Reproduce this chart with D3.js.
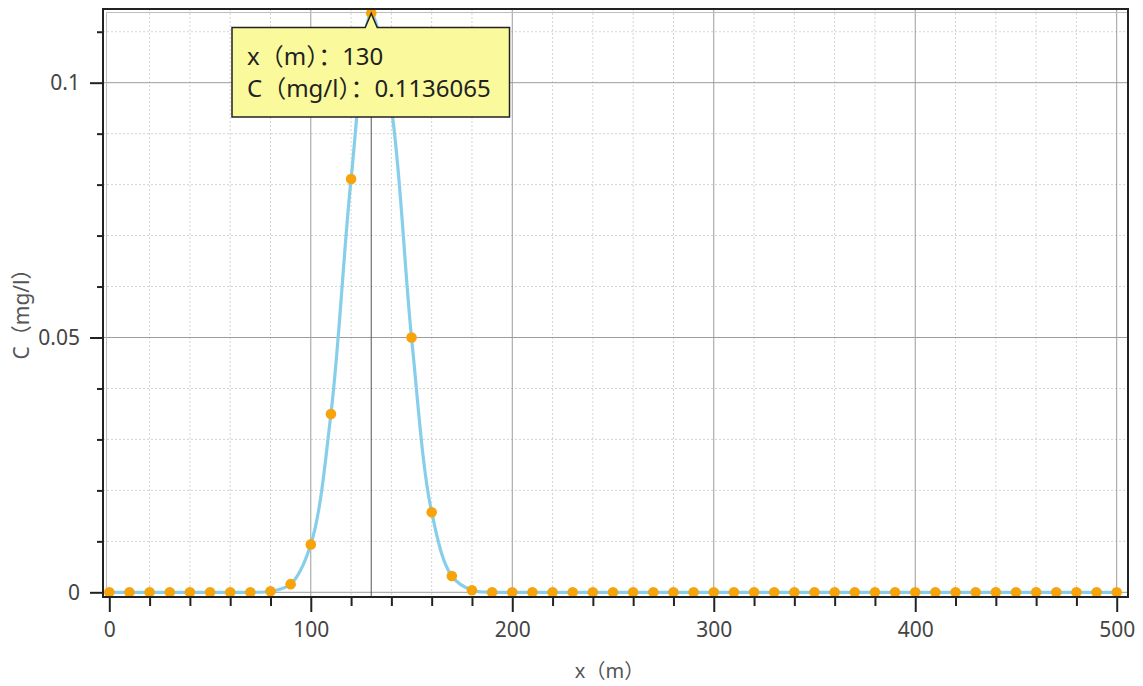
<!DOCTYPE html>
<html>
<head>
<meta charset="utf-8">
<script src="https://cdn.jsdelivr.net/npm/d3@7"></script>
<style>
  html, body { margin: 0; padding: 0; background: #fff; }
  text { font-family: "Noto Sans", "Noto Sans CJK SC", sans-serif; }
</style>
</head>
<body>
<div id="chart"></div>
<script>
// distance along the river (m) and concentration (mg/l)
const xValues = [0, 10, 20, 30, 40, 50, 60, 70, 80, 90,
  100, 110, 120, 130, 140, 150, 160, 170, 180, 190,
  200, 210, 220, 230, 240, 250, 260, 270, 280, 290,
  300, 310, 320, 330, 340, 350, 360, 370, 380, 390,
  400, 410, 420, 430, 440, 450, 460, 470, 480, 490, 500];
const cValues = [0, 0, 0, 0, 0, 0, 0, 0, 0.0002, 0.0016,
  0.0094, 0.035, 0.0811, 0.1136065, 0.095, 0.050, 0.0157, 0.0032, 0.0004, 0,
  0, 0, 0, 0, 0, 0, 0, 0, 0, 0,
  0, 0, 0, 0, 0, 0, 0, 0, 0, 0,
  0, 0, 0, 0, 0, 0, 0, 0, 0, 0, 0];

const xMajor = [0, 100, 200, 300, 400, 500];
const xMinor = [20, 40, 60, 80, 120, 140, 160, 180, 220, 240, 260, 280, 320, 340, 360, 380, 420, 440, 460, 480];
const yMajor = [0, 0.05, 0.1];
const yMinor = [0.01, 0.02, 0.03, 0.04, 0.06, 0.07, 0.08, 0.09, 0.11];
const yTickLabels = ["0", "0.05", "0.1"];

const xTitle = "x（m）";
const yTitle = "C（mg/l）";
const tracked = 13; // index of the point under the tooltip

const width = 1143, height = 686;
const pLeft = 103, pRight = 1128, pTop = 9, pBottom = 597;

const svg = d3.select("#chart").append("svg")
  .attr("width", width)
  .attr("height", height);

const x = d3.scaleLinear().domain([-3.13, 505.6]).range([pLeft, pRight]);
const y = d3.scaleLinear().domain([-0.00092, 0.11446]).range([pBottom, pTop]);

// grid
const grid = svg.append("g");
grid.selectAll(".vminor").data(xMinor).join("line")
  .attr("x1", d => x(d)).attr("x2", d => x(d))
  .attr("y1", pTop).attr("y2", pBottom)
  .attr("stroke", "#d4d4d4").attr("stroke-dasharray", "2,2");
grid.selectAll(".hminor").data(yMinor).join("line")
  .attr("y1", d => y(d)).attr("y2", d => y(d))
  .attr("x1", pLeft).attr("x2", pRight)
  .attr("stroke", "#d4d4d4").attr("stroke-dasharray", "2,2");
grid.selectAll(".vmajor").data(xMajor.slice(1)).join("line")
  .attr("x1", d => x(d)).attr("x2", d => x(d))
  .attr("y1", pTop).attr("y2", pBottom)
  .attr("stroke", "#9c9c9c");
grid.selectAll(".hmajor").data(yMajor).join("line")
  .attr("y1", d => y(d)).attr("y2", d => y(d))
  .attr("x1", pLeft).attr("x2", pRight)
  .attr("stroke", "#9c9c9c");

// inner light frame
svg.append("path")
  .attr("d", `M${pLeft + 3.5},${pBottom} V${pTop + 3.5} H${pRight}`)
  .attr("fill", "none").attr("stroke", "#bdbdbd");

// tracker line
svg.append("line")
  .attr("x1", x(xValues[tracked])).attr("x2", x(xValues[tracked]))
  .attr("y1", pTop).attr("y2", pBottom)
  .attr("stroke", "#555");

svg.append("clipPath").attr("id", "plot")
  .append("rect").attr("x", pLeft).attr("y", pTop)
  .attr("width", pRight - pLeft).attr("height", pBottom - pTop);

const points = xValues.map((d, i) => [d, cValues[i]]);
const line = d3.line()
  .x(d => x(d[0])).y(d => y(d[1]))
  .curve(d3.curveCatmullRom.alpha(0.5));

svg.append("path")
  .datum(points)
  .attr("clip-path", "url(#plot)")
  .attr("d", line)
  .attr("fill", "none")
  .attr("stroke", "#87ceeb")
  .attr("stroke-width", 3.2);

svg.append("g").selectAll("circle").data(points).join("circle")
  .attr("cx", d => x(d[0])).attr("cy", d => y(d[1]))
  .attr("r", 5.3)
  .attr("fill", "#f7a30c");

// axes
const xAxis = svg.append("g").attr("transform", `translate(0,${pBottom})`);
xAxis.call(d3.axisBottom(x).tickValues(xMinor).tickSize(9).tickFormat(""));
xAxis.call(g => g.append("g").call(d3.axisBottom(x).tickValues(xMajor).tickSize(15).tickPadding(10)));
xAxis.selectAll(".domain").remove();
xAxis.selectAll("line").attr("stroke", "#222").attr("stroke-width", 2);
xAxis.selectAll("text").attr("font-size", 21).attr("fill", "#444");

const yAxis = svg.append("g").attr("transform", `translate(${pLeft},0)`);
yAxis.call(d3.axisLeft(y).tickValues(yMinor).tickSize(6).tickFormat(""));
yAxis.call(g => g.append("g").call(d3.axisLeft(y).tickValues(yMajor).tickSize(13).tickPadding(10)
  .tickFormat((d, i) => yTickLabels[i])));
yAxis.selectAll(".domain").remove();
yAxis.selectAll("line").attr("stroke", "#222").attr("stroke-width", 2);
yAxis.selectAll("text").attr("font-size", 21).attr("fill", "#444");

// outer frame
svg.append("rect")
  .attr("x", pLeft).attr("y", pTop)
  .attr("width", pRight - pLeft).attr("height", pBottom - pTop)
  .attr("fill", "none").attr("stroke", "#222").attr("stroke-width", 2);

// axis titles
svg.append("text")
  .attr("x", (pLeft + pRight) / 2 - 6).attr("y", 678)
  .attr("text-anchor", "middle")
  .attr("font-size", 20).attr("fill", "#555")
  .text(xTitle);
svg.append("text")
  .attr("transform", `translate(29,${(pTop + pBottom) / 2 + 6}) rotate(-90)`)
  .attr("text-anchor", "middle")
  .attr("font-size", 21).attr("fill", "#555")
  .text(yTitle);

// tooltip
const px = x(xValues[tracked]), py = y(cValues[tracked]);
const bx0 = 232, bx1 = 509.5, by0 = 27.5, by1 = 117;
const tip = svg.append("g");
tip.append("path")
  .attr("d", `M${bx0},${by0} H${px - 6} L${px},${py} L${px + 6},${by0} H${bx1} V${by1} H${bx0} Z`)
  .attr("fill", "#fafa9c")
  .attr("stroke", "#222").attr("stroke-width", 1.5);
tip.append("text").attr("x", 247).attr("y", 65)
  .attr("font-size", 24).attr("fill", "#222")
  .text(`x（m）：${xValues[tracked]}`);
tip.append("text").attr("x", 247).attr("y", 97)
  .attr("font-size", 24).attr("fill", "#222")
  .text(`C（mg/l）：${cValues[tracked]}`);
</script>
</body>
</html>
